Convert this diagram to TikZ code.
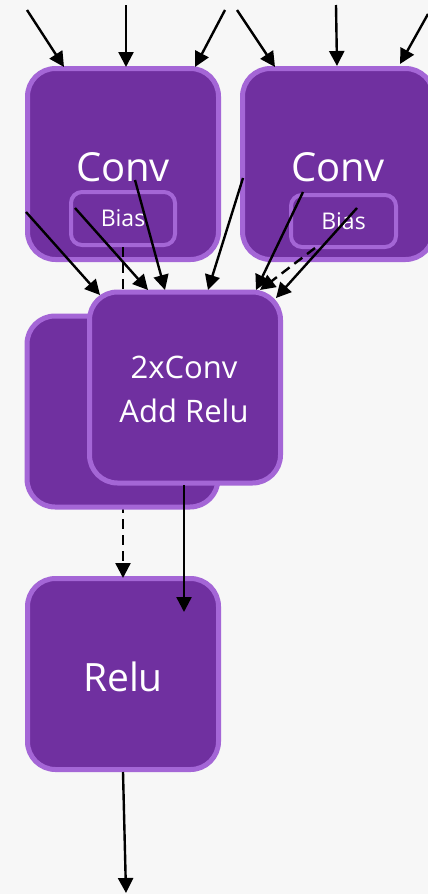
\documentclass[tikz,border=0pt]{standalone}
\usepackage{fontspec}
\setmainfont{Open Sans}
\usetikzlibrary{arrows.meta}

\definecolor{opfill}{HTML}{7030A0}
\definecolor{opedge}{HTML}{A466D6}
\definecolor{canvas}{HTML}{F7F7F7}

\tikzset{
  opbox/.style={draw=opedge, line width=5pt, fill=opfill, rounded corners=28pt,
    minimum width=191pt, minimum height=191pt, inner sep=0pt},
  oplabel/.style={text=white, inner sep=0pt, text depth=0pt, align=center},
  biasbox/.style={draw=opedge, line width=4pt, fill=opfill, rounded corners=11pt,
    inner sep=0pt, text=white, font=\fontsize{23}{26}\selectfont},
  flow/.style={line width=2.4pt, -{Triangle[length=15pt,width=15pt]}},
  dflow/.style={flow, dash pattern=on 10pt off 6pt},
}

\begin{document}
\begin{tikzpicture}[x=1pt, y=-1pt]
  \useasboundingbox (0,0) rectangle (428,894);
  \fill[canvas] (0,0) rectangle (428,894);

  % two convolutions, each carrying its bias
  \node[opbox] (conv1) at (123,164) {};
  \node[opbox] (conv2) at (338,164) {};
  \node[oplabel, font=\fontsize{40}{48}\selectfont] (conv1lbl) at (123,167) {Conv};
  \node[oplabel, font=\fontsize{40}{48}\selectfont] (conv2lbl) at (338,167) {Conv};
  \node[biasbox, minimum width=104pt, minimum height=53pt] (bias1) at (123,218.5) {Bias};
  \node[biasbox, minimum width=105pt, minimum height=52pt] (bias2) at (343.5,221) {Bias};

  % input tails and heads
  \coordinate (i1) at (27,10);   \coordinate (h1) at (64,67);
  \coordinate (i2) at (126,5);   \coordinate (h2) at (126,67);
  \coordinate (i3) at (225,10);  \coordinate (h3) at (195,67);
  \coordinate (i4) at (237,10);  \coordinate (h4) at (275,67);
  \coordinate (i5) at (336,5);   \coordinate (h5) at (337,66);
  \coordinate (i6) at (428,14);  \coordinate (h6) at (400,64);
  \foreach \k in {1,...,6} \draw[flow] (i\k) -- (h\k);

  % relu target (drawn early so the bias path runs behind the fused ops)
  \node[opbox] (relu) at (123,674) {};
  \node[oplabel, font=\fontsize{39}{46}\selectfont] (relulbl) at (123,676.5) {Relu};

  % bias of the first conv feeds the relu, passing behind the fused ops
  \coordinate (rtop) at (123,578);
  \draw[dflow] (bias1.south) -- (rtop);

  % fused operators: a stacked pair
  \node[opbox] (fusedback) at (122.5,411.5) {};
  \node[opbox] (fused) at (185,387.5) {};
  \node[oplabel, font=\fontsize{31}{44}\selectfont] (fusedlbl) at (184,389.5)
    {2xConv\\Add Relu};

  % connectors into the fused operator
  \coordinate (a1) at (26,212);   \coordinate (b1) at (100,295);
  \coordinate (a2) at (75,208);   \coordinate (b2) at (148,290);
  \coordinate (a3) at (135,180);  \coordinate (b3) at (165,290);
  \coordinate (a4) at (243,178);  \coordinate (b4) at (208,290);
  \coordinate (a5) at (303,192);  \coordinate (b5) at (256,290);
  \coordinate (a6) at (357,208);  \coordinate (b6) at (276,298);
  \foreach \k in {1,...,6} \draw[flow] (a\k) -- (b\k);
  \coordinate (d1) at (315,248);
  \coordinate (d2) at (260,290);
  \draw[dflow] (d1) -- (d2);

  % fused output into relu, and the final output
  \coordinate (fo) at (184,485);
  \coordinate (fi) at (184,612);
  \draw[flow] (fo) -- (fi);
  \coordinate (out) at (126,893);
  \draw[flow] (relu.south) -- (out);
\end{tikzpicture}
\end{document}
